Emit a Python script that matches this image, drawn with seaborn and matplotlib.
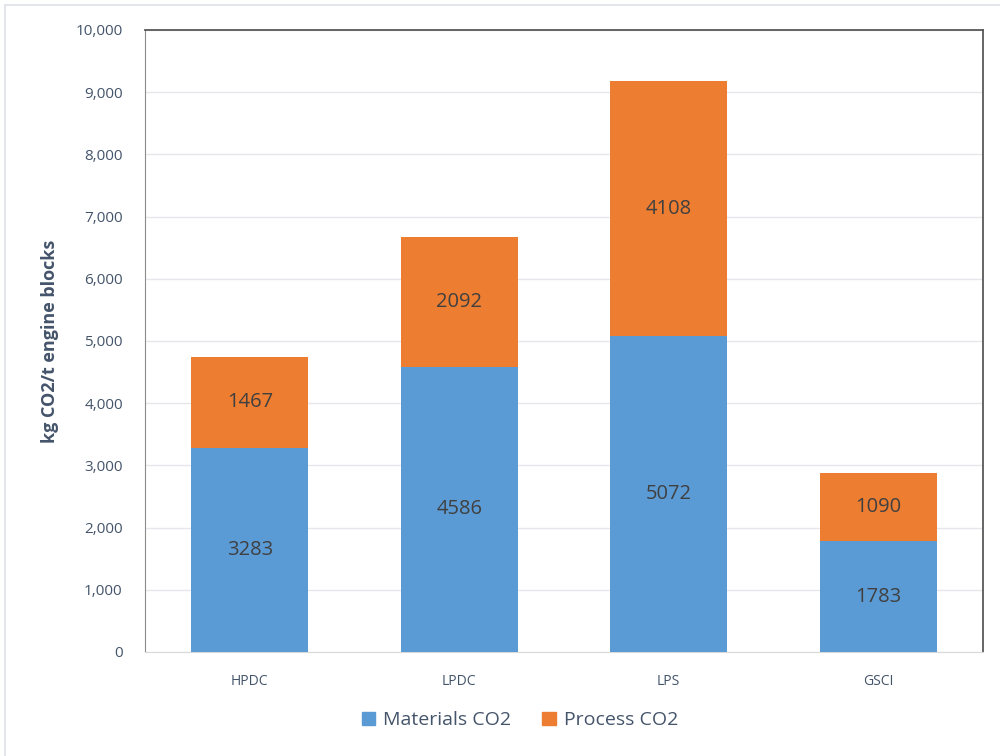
import matplotlib
matplotlib.use("Agg")
import matplotlib.pyplot as plt
import matplotlib.patches as mpatches
import seaborn as sns
import pandas as pd

methods = ["HPDC", "LPDC", "LPS", "GSCI"]
materials_co2 = [3283, 4586, 5072, 1783]
process_co2 = [1467, 2092, 4108, 1090]

blue = "#5B9BD5"
orange = "#ED7D31"
text_color = "#44546A"

df = pd.DataFrame({"method": methods, "materials": materials_co2, "process": process_co2})
df["total"] = df["materials"] + df["process"]

sns.set_style("white")
plt.rcParams["font.family"] = ["Open Sans", "DejaVu Sans"]

fig = plt.figure(figsize=(10, 7.56), dpi=100)
ax = fig.add_axes([0.145, 0.1376, 0.838, 0.8228])

# stacked: total in orange, then materials in blue over it
sns.barplot(data=df, x="method", y="total", color=orange, width=0.56, saturation=1, ax=ax,
            zorder=2, linewidth=0, edgecolor="none")
sns.barplot(data=df, x="method", y="materials", color=blue, width=0.56, saturation=1, ax=ax,
            zorder=3, linewidth=0, edgecolor="none")

for i, row in df.iterrows():
    ax.text(i, row["materials"] / 2, str(row["materials"]), ha="center", va="center",
            fontsize=14.5, color="#404040", zorder=4)
    ax.text(i, row["materials"] + row["process"] / 2, str(row["process"]), ha="center", va="center",
            fontsize=14.5, color="#404040", zorder=4)

ax.set_ylim(0, 10000)
ax.set_yticks(range(0, 10001, 1000))
ax.set_yticklabels([f"{v:,}" for v in range(0, 10001, 1000)])
ax.yaxis.grid(True, color="#E6E6EC", lw=1, zorder=0)
ax.set_axisbelow(True)
ax.tick_params(axis="y", labelsize=11, colors=text_color, length=0, pad=16)
ax.tick_params(axis="x", labelsize=10, colors=text_color, length=0, pad=16)
ax.set_xlabel("")
ax.set_ylabel("kg CO2/t engine blocks", fontsize=13, fontweight="bold", color=text_color, labelpad=12)

ax.spines["left"].set_color("#8C8C8C")
ax.spines["top"].set_color("#595959")
ax.spines["right"].set_color("#595959")
ax.spines["bottom"].set_color("#D9D9D9")
for s in ["top", "right"]:
    ax.spines[s].set_linewidth(1.3)

handles = [mpatches.Patch(color=blue, label="Materials CO2"),
           mpatches.Patch(color=orange, label="Process CO2")]
fig.legend(handles=handles, loc="center", bbox_to_anchor=(0.52, 0.047), ncol=2, frameon=False,
           fontsize=14, handlelength=0.7, handleheight=0.7, handletextpad=0.4, columnspacing=1.6,
           labelcolor=text_color)

fig.patches.append(mpatches.Rectangle((0.005, -0.01), 1.0, 1.003, transform=fig.transFigure,
                                      fill=False, edgecolor="#DDE1E8", lw=1.2))

fig.savefig("out.png", dpi=100)
